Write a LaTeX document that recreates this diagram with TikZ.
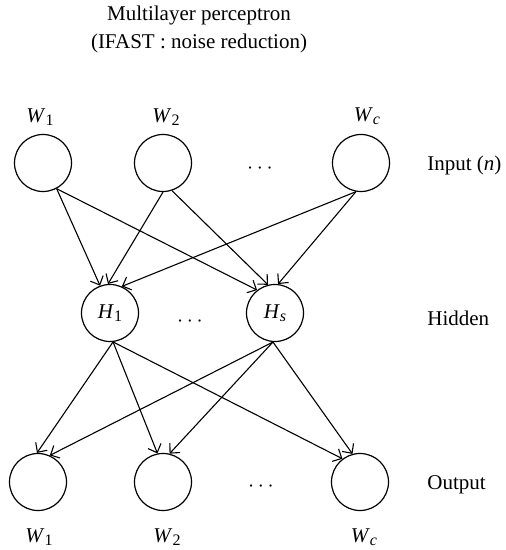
\documentclass[tikz,border=0pt]{standalone}
\usepackage{fontspec}
\setmainfont{Liberation Serif}
\usetikzlibrary{arrows.meta}
\newcommand\mylab[2]{\textit{#1}\raisebox{-0.35ex}{\footnotesize #2}}
\begin{document}
\begin{tikzpicture}[x=0.5pt,y=-0.5pt,
  neuron/.style={draw,circle,line width=0.6pt,minimum size=28.5pt,inner sep=0pt},
  conn/.style={line width=0.55pt,-{Straight Barb[length=3.6pt,width=7pt,line width=0.55pt]}},
  txt/.style={font=\fontsize{10.5}{12.6}\selectfont,inner sep=0pt}]
\useasboundingbox (0,0) rectangle (506,550);
\node[txt] (t1) at (199,15) {Multilayer perceptron};
\node[txt] (t2) at (199,43) {(IFAST : noise reduction)};
% input layer
\node[neuron] (i1) at (43,163) {};
\node[neuron] (i2) at (163,163) {};
\node[neuron] (i3) at (361,163) {};
\node[txt] (idots) at (260,169) {$\cdots$};
\node[txt,anchor=west] (ilab) at (427,165) {Input (\textit{n})};
\node[txt] (w1) at (40,117) {\mylab{W}{1}};
\node[txt] (w2) at (166,117) {\mylab{W}{2}};
\node[txt] (wc) at (367,116) {\mylab{W}{\textit{c}}};
% hidden layer
\node[neuron,txt] (h1) at (110,313) {\mylab{H}{1}};
\node[neuron,txt] (hs) at (275,313) {\mylab{H}{\textit{s}}};
\node[txt] (hdots) at (190,322) {$\cdots$};
\node[txt,anchor=west] (hlab) at (427,318) {Hidden};
% output layer
\node[neuron] (o1) at (38,482) {};
\node[neuron] (o2) at (163,482) {};
\node[neuron] (o3) at (360,482) {};
\node[txt] (odots) at (261,487) {$\cdots$};
\node[txt,anchor=west] (olab) at (427,485) {Output};
\node[txt] (v1) at (39,537) {\mylab{W}{1}};
\node[txt] (v2) at (167,537) {\mylab{W}{2}};
\node[txt] (vc) at (364,537) {\mylab{W}{\textit{c}}};
% input -> hidden
\draw[conn] (i1.-62) -- (h1.110);
\draw[conn] (i1.-62) -- (hs.128);
\draw[conn] (i2.-90) -- (h1.94);
\draw[conn] (i2.-72) -- (hs.104);
\draw[conn] (i3.-100) -- (h1.66);
\draw[conn] (i3.-100) -- (hs.84);
% hidden -> output
\draw[conn] (h1.-84) -- (o1.92);
\draw[conn] (h1.-84) -- (o2.101);
\draw[conn] (h1.-84) -- (o3.127);
\draw[conn] (hs.-94) -- (o1.66);
\draw[conn] (hs.-94) -- (o2.77);
\draw[conn] (hs.-94) -- (o3.105);
\end{tikzpicture}
\end{document}
